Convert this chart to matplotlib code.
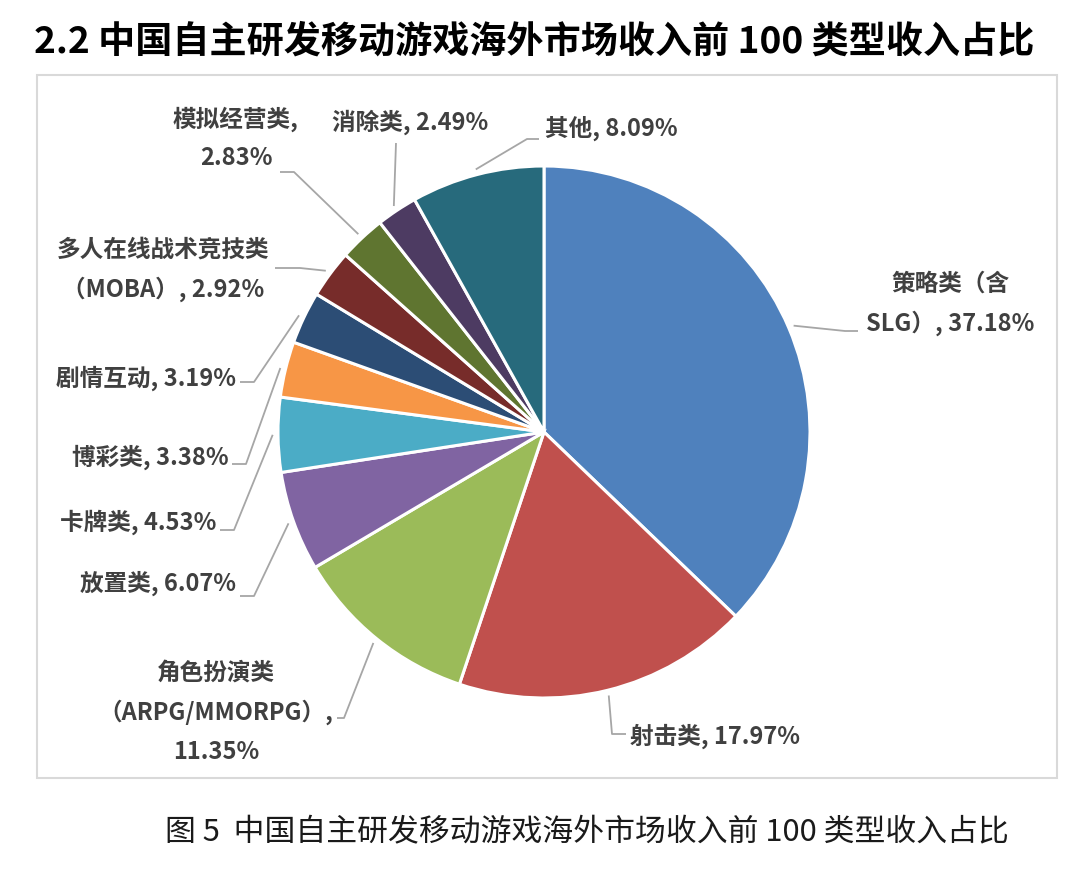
import numpy as np
import matplotlib
matplotlib.use("Agg")
import matplotlib.pyplot as plt
from matplotlib.patches import Rectangle

plt.rcParams['font.family'] = ['Noto Sans CJK SC', 'DejaVu Sans']

# data
categories = ['策略类（含SLG）', '射击类', '角色扮演类（ARPG/MMORPG）', '放置类', '卡牌类',
              '博彩类', '剧情互动', '多人在线战术竞技类（MOBA）', '模拟经营类', '消除类', '其他']
shares = [37.18, 17.97, 11.35, 6.07, 4.53, 3.38, 3.19, 2.92, 2.83, 2.49, 8.09]
colors = ['#4F81BD', '#C0504D', '#9BBB59', '#8064A2', '#4BACC6', '#F79646',
          '#2C4D75', '#772C2A', '#5F7530', '#4D3B62', '#276A7C']

# how each label is wrapped in the picture
label_text = ['策略类（含\nSLG）, {}%', '射击类, {}%', '角色扮演类\n（ARPG/MMORPG）,\n{}%',
              '放置类, {}%', '卡牌类, {}%', '博彩类, {}%', '剧情互动, {}%',
              '多人在线战术竞技类\n（MOBA）, {}%', '模拟经营类,\n{}%', '消除类, {}%', '其他, {}%']

# layout in pixels (x right, y down): text anchor, ha, leader elbow, leader end
label_pos = [(950, 304, 'center'), (630, 736, 'left'), (216, 712, 'center'),
             (236, 583, 'right'), (216, 522, 'right'), (229, 457, 'right'),
             (236, 378, 'right'), (163, 270, 'center'), (236, 138, 'center'),
             (410, 122, 'center'), (545, 128, 'left')]
leader = [((845, 331), (858, 331)), ((612, 734), (626, 734)), ((344, 718), (337, 718)),
          ((254, 596), (240, 596)), ((234, 530), (220, 530)), ((246, 464), (232, 464)),
          ((254, 382), (240, 382)), ((300, 268), (275, 268)), ((294, 172), (280, 172)),
          ((396, 143), (396, 143)), ((527, 139), (539, 139))]

W, H = 1080, 869
fig = plt.figure(figsize=(W / 100, H / 100), dpi=100)
ax = fig.add_axes([0, 0, 1, 1])

cx, cy, R = 544, 432, 266
wedges, _ = ax.pie(shares, colors=colors, center=(cx, cy), radius=R,
                   startangle=-90, counterclock=True,
                   wedgeprops=dict(edgecolor='white', linewidth=2.2))
ax.set_xlim(0, W)
ax.set_ylim(H, 0)
ax.set_aspect('equal')
ax.axis('off')

ax.add_patch(Rectangle((37, 75), 1020, 703, fill=False, edgecolor='#D9D9D9', linewidth=1.5))

for w, v, fmt, (tx, ty, ha), (elb, end) in zip(wedges, shares, label_text, label_pos, leader):
    mid = np.deg2rad((w.theta1 + w.theta2) / 2)
    sx = cx + R * 1.02 * np.cos(mid)
    sy = cy + R * 1.02 * np.sin(mid)
    ax.plot([sx, elb[0], end[0]], [sy, elb[1], end[1]], color='#A6A6A6', lw=1.3,
            solid_capstyle='butt')
    ax.text(tx, ty, fmt.format(f'{v:.2f}'), ha=ha, va='center', multialignment='center',
            fontsize=17, fontweight='bold', color='#404040', linespacing=1.75)

ax.text(34, 42, '2.2 中国自主研发移动游戏海外市场收入前 100 类型收入占比', ha='left', va='center',
        fontsize=26.7, fontweight='bold', color='black')
ax.text(165, 833, '图 5  中国自主研发移动游戏海外市场收入前 100 类型收入占比', ha='left', va='center',
        fontsize=22.2, color='#1A1A1A')

fig.savefig('out.png', dpi=100, facecolor='white')
